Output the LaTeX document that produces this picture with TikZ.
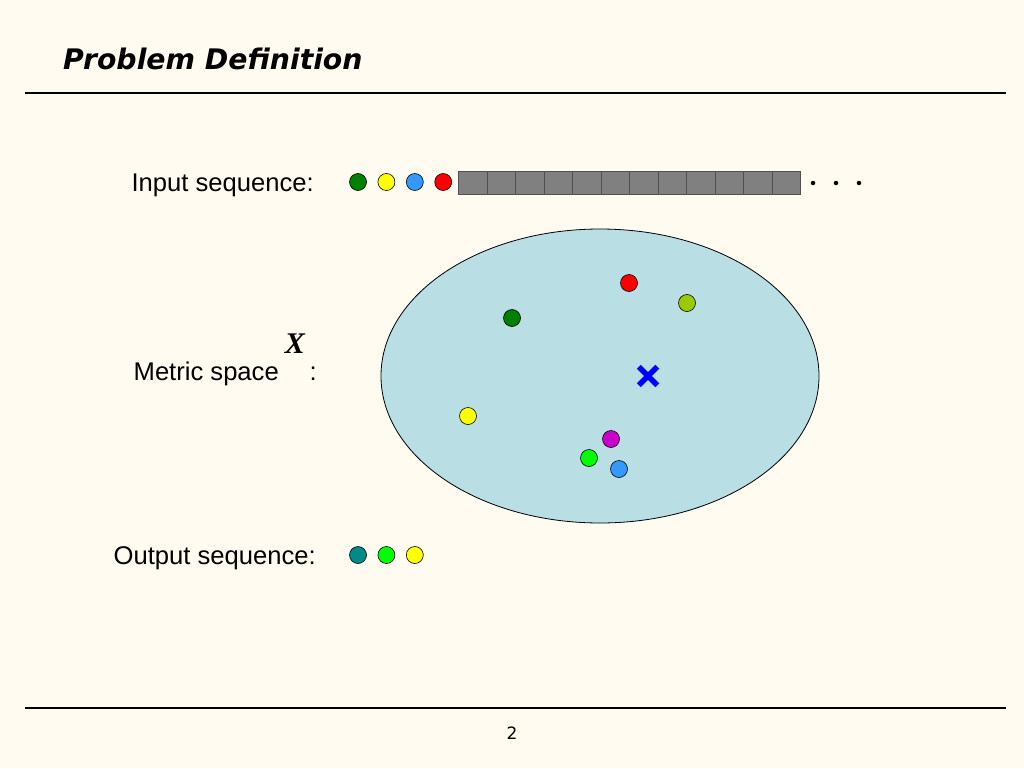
\documentclass[tikz,border=0pt]{standalone}
\usepackage{fontspec}
\setmainfont{Liberation Sans}
\newfontfamily\headfont{DejaVu Sans}
\newfontfamily\symfont{Liberation Serif}
\usetikzlibrary{positioning, shapes.geometric, shapes.misc}
\definecolor{slidebg}{RGB}{255,251,240}
\definecolor{spacefill}{RGB}{185,223,228}
\definecolor{cellgrey}{RGB}{128,128,128}
\definecolor{cellline}{RGB}{80,80,80}
\definecolor{ptdarkgreen}{RGB}{0,128,0}
\definecolor{ptyellow}{RGB}{255,255,0}
\definecolor{ptblue}{RGB}{51,153,255}
\definecolor{ptred}{RGB}{255,0,0}
\definecolor{ptolive}{RGB}{153,204,0}
\definecolor{ptmagenta}{RGB}{204,0,204}
\definecolor{ptgreen}{RGB}{0,255,0}
\definecolor{ptteal}{RGB}{0,139,139}

\begin{document}
\begin{tikzpicture}
[x=1pt, y=-1pt,
   pt/.style={shape=circle, draw, line width=0.6pt, inner sep=0pt, minimum size=17pt},
   cell/.style={shape=rectangle, draw=cellline, fill=cellgrey, line width=0.8pt, inner sep=0pt, minimum width=28.5pt, minimum height=23pt, anchor=north west},
   etc/.style={shape=circle, fill, inner sep=0pt, minimum size=4.5pt},
   seqtext/.style={font=\fontsize{25.6}{30}\selectfont, anchor=base east, inner sep=0pt},
   rule/.style={line width=1.3pt}]
\fill[slidebg] (0,0) rectangle (1024,768);
\useasboundingbox (0,0) rectangle (1024,768);
% heading and frame lines
\node[anchor=base west, inner sep=0pt, font=\headfont\bfseries\itshape\fontsize{28.3}{32}\selectfont] (title) at (63,69) {Problem Definition};
\coordinate (topL) at (25,93);
\coordinate (topR) at (1006,93);
\coordinate (botL) at (25,708);
\coordinate (botR) at (1006,708);
\draw[rule] (topL) -- (topR);
\draw[rule] (botL) -- (botR);
\node[font=\headfont\fontsize{17}{20}\selectfont] (pageno) at (512,733) {2};
% input sequence
\node[seqtext] (inlabel) at (314,191) {Input sequence:};
\foreach \c [count=\i] in {ptdarkgreen, ptyellow, ptblue, ptred}
  \node[pt, fill=\c] (in\i) at ({358+28.4*(\i-1)}, 182) {};
\foreach \i in {1,...,12}
  \node[cell] (sq\i) at ({458+28.5*(\i-1)}, 171) {};
\foreach \i in {1,2,3}
  \node[etc] (dot\i) at ({813+23*(\i-1)}, 183) {};
% metric space
\node[shape=ellipse, draw, fill=spacefill, line width=0.8pt, minimum width=438pt, minimum height=294pt] (space) at (600,376) {};
\node[seqtext] (splabel) at (279,380) {Metric space};
\node[font=\symfont\bfseries\itshape\fontsize{30}{34}\selectfont, inner sep=0pt] (spX) at (295,344) {X};
\node[seqtext] (spcolon) at (317,380) {:};
\node[pt, fill=ptred] (p1) at (629,283) {};
\node[pt, fill=ptolive] (p2) at (687,303) {};
\node[pt, fill=ptdarkgreen] (p3) at (512,318) {};
\node[pt, fill=ptyellow] (p4) at (468,416) {};
\node[pt, fill=ptmagenta] (p5) at (611,439) {};
\node[pt, fill=ptgreen] (p6) at (589,458) {};
\node[pt, fill=ptblue] (p7) at (619,469) {};
\node[shape=cross out, draw=blue, line width=5.5pt, minimum size=13pt, inner sep=0pt] (centre) at (648,376) {};
% output sequence
\node[seqtext] (outlabel) at (316,564) {Output sequence:};
\foreach \c [count=\i] in {ptteal, ptgreen, ptyellow}
  \node[pt, fill=\c] (out\i) at ({358+28.4*(\i-1)}, 555) {};
\end{tikzpicture}
\end{document}
